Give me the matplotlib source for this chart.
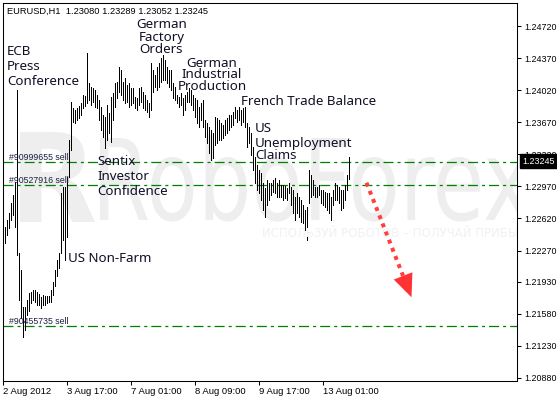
import matplotlib
matplotlib.use("Agg")
import matplotlib.pyplot as plt
import numpy as np
from matplotlib.textpath import TextPath
from matplotlib.patches import PathPatch, Polygon
from matplotlib.font_manager import FontProperties
from matplotlib.transforms import Affine2D

plt.rcParams['lines.scale_dashes'] = False

W, H, DPI = 557, 399, 100

title_text = "EURUSD,H1  1.23080 1.23289 1.23052 1.23245"

bar_high = [
    1.2253, 1.2260, 1.2268, 1.2279, 1.2288, 1.2302, 1.2402, 1.2224, 1.2206, 1.2165,
    1.2165, 1.2173, 1.2181, 1.2182, 1.2184, 1.2184, 1.2182, 1.2180, 1.2176, 1.2179,
    1.2177, 1.2177, 1.2177, 1.2184, 1.2193, 1.2206, 1.2217, 1.2224, 1.2290, 1.2296,
    1.2296, 1.2307, 1.2348, 1.2389, 1.2383, 1.2380, 1.2383, 1.2385, 1.2388, 1.2397,
    1.2396, 1.2443, 1.2410, 1.2405, 1.2404, 1.2402, 1.2397, 1.2391, 1.2384, 1.2375,
    1.2373, 1.2386, 1.2377, 1.2395, 1.2399, 1.2410, 1.2411, 1.2427, 1.2424, 1.2411,
    1.2415, 1.2408, 1.2410, 1.2404, 1.2404, 1.2395, 1.2393, 1.2404, 1.2405, 1.2400,
    1.2397, 1.2391, 1.2388, 1.2432, 1.2424, 1.2419, 1.2427, 1.2432, 1.2437, 1.2440,
    1.2435, 1.2427, 1.2424, 1.2424, 1.2410, 1.2405, 1.2397, 1.2395, 1.2399, 1.2393,
    1.2397, 1.2400, 1.2404, 1.2402, 1.2397, 1.2393, 1.2391, 1.2384, 1.2388, 1.2391,
    1.2369, 1.2366, 1.2362, 1.2359, 1.2355, 1.2373, 1.2372, 1.2369, 1.2366, 1.2364,
    1.2369, 1.2372, 1.2375, 1.2375, 1.2378, 1.2384, 1.2380, 1.2384, 1.2380, 1.2383,
    1.2384, 1.2366, 1.2362, 1.2355, 1.2340, 1.2329, 1.2320, 1.2315, 1.2312, 1.2301,
    1.2295, 1.2304, 1.2301, 1.2301, 1.2304, 1.2306, 1.2301, 1.2304, 1.2299, 1.2299,
    1.2297, 1.2295, 1.2301, 1.2296, 1.2293, 1.2285, 1.2290, 1.2285, 1.2282, 1.2277,
    1.2271, 1.2275, 1.2315, 1.2309, 1.2304, 1.2296, 1.2296, 1.2299, 1.2293, 1.2293,
    1.2291, 1.2290, 1.2290, 1.2285, 1.2293, 1.2301, 1.2299, 1.2296, 1.2293, 1.2293,
    1.2299, 1.2309, 1.23289,
]
bar_low = [
    1.2235, 1.2244, 1.2252, 1.2260, 1.2266, 1.2253, 1.2222, 1.2173, 1.2153, 1.2133,
    1.2140, 1.2157, 1.2161, 1.2170, 1.2173, 1.2171, 1.2168, 1.2168, 1.2164, 1.2168,
    1.2168, 1.2170, 1.2171, 1.2171, 1.2179, 1.2188, 1.2199, 1.2208, 1.2224, 1.2239,
    1.2217, 1.2242, 1.2307, 1.2337, 1.2367, 1.2366, 1.2369, 1.2372, 1.2375, 1.2383,
    1.2385, 1.2388, 1.2391, 1.2386, 1.2389, 1.2384, 1.2383, 1.2369, 1.2359, 1.2351,
    1.2339, 1.2348, 1.2355, 1.2345, 1.2369, 1.2384, 1.2393, 1.2400, 1.2397, 1.2391,
    1.2388, 1.2389, 1.2384, 1.2386, 1.2388, 1.2383, 1.2380, 1.2386, 1.2389, 1.2383,
    1.2380, 1.2378, 1.2373, 1.2380, 1.2400, 1.2405, 1.2402, 1.2405, 1.2411, 1.2413,
    1.2413, 1.2410, 1.2405, 1.2402, 1.2393, 1.2391, 1.2388, 1.2384, 1.2386, 1.2375,
    1.2380, 1.2389, 1.2389, 1.2386, 1.2380, 1.2373, 1.2366, 1.2362, 1.2369, 1.2362,
    1.2351, 1.2344, 1.2333, 1.2326, 1.2328, 1.2342, 1.2344, 1.2348, 1.2348, 1.2350,
    1.2353, 1.2355, 1.2359, 1.2362, 1.2364, 1.2372, 1.2367, 1.2369, 1.2364, 1.2367,
    1.2362, 1.2340, 1.2344, 1.2331, 1.2315, 1.2301, 1.2293, 1.2290, 1.2282, 1.2271,
    1.2264, 1.2277, 1.2282, 1.2288, 1.2291, 1.2290, 1.2285, 1.2285, 1.2285, 1.2282,
    1.2284, 1.2282, 1.2290, 1.2277, 1.2268, 1.2260, 1.2268, 1.2264, 1.2258, 1.2257,
    1.2249, 1.2239, 1.2279, 1.2285, 1.2288, 1.2285, 1.2285, 1.2288, 1.2279, 1.2277,
    1.2275, 1.2271, 1.2268, 1.2260, 1.2277, 1.2282, 1.2282, 1.2279, 1.2271, 1.2273,
    1.2282, 1.2293, 1.23052,
]

x_tick_bars = [0, 32, 64, 96, 128, 160]
x_tick_labels = ["2 Aug 2012", "3 Aug 17:00", "7 Aug 01:00", "8 Aug 09:00",
                 "9 Aug 17:00", "13 Aug 01:00"]
y_tick_values = [1.24720, 1.24370, 1.24020, 1.23670, 1.23320, 1.22970,
                 1.22620, 1.22270, 1.21930, 1.21580, 1.21230, 1.20880]
y_range = (1.20847, 1.24971)
x_range = (-0.75, 256.25)

order_labels = ["#90999655 sell", "#90527916 sell", "#90455735 sell"]
order_prices = [1.2324, 1.2299, 1.2145]
last_price = 1.23245

event_texts = ["ECB", "Press", "Conference",
               "German", "Factory", "Orders",
               "German", "Industrial", "Production",
               "French Trade Balance",
               "US", "Unemployment", "Claims",
               "Sentix", "Investor", "Confidence",
               "US Non-Farm"]
# pixel anchor (x, baseline y, alignment) of each text line
event_pos = [(7, 55, 'left'), (7, 70, 'left'), (7, 85, 'left'),
             (162, 28, 'center'), (162, 40.5, 'center'), (161, 53, 'center'),
             (212, 67, 'center'), (212, 78.5, 'center'), (212, 90, 'center'),
             (241, 105, 'left'),
             (255, 132, 'left'), (255, 147, 'left'), (255, 159, 'left'),
             (97, 165, 'left'), (97, 179.5, 'left'), (97, 195, 'left'),
             (68, 262, 'left')]

arrow_start = (181, 1.2301)
arrow_tip = (203.5, 1.2176)

watermark = "RoboForex"
watermark_sub = "ИСПОЛЬЗУЙ РОБОТОВ – ПОЛУЧАЙ ПРИБЫЛЬ"

# ---------------------------------------------------------------
fig = plt.figure(figsize=(W / DPI, H / DPI), dpi=DPI)
fig.patch.set_facecolor('white')
ax = fig.add_axes([3 / W, 1 - 381 / H, 514 / W, 378 / H])
ax.set_facecolor('white')
ax.set_xlim(*x_range)
ax.set_ylim(*y_range)
ax.set_autoscale_on(False)
for s in ax.spines.values():
    s.set_color('black')
    s.set_linewidth(0.75)

# watermark (drawn in pixel space, clipped to the chart)
wm_col = '#eeeeee'
fp = FontProperties(family='DejaVu Sans')
tp = TextPath((0, 0), watermark, size=100, prop=fp)
ext = tp.get_extents()
sx = (530 - 100) / ext.width
sy = 82 / 72.9
tr = Affine2D().translate(-ext.x0, 0).scale(sx, sy).translate(100, H - 220)
wp = PathPatch(tp, transform=tr, fc=wm_col, ec='none', zorder=0.5)
ax.add_patch(wp)
wp.set_clip_path(ax.patch)

fpb = FontProperties(family='DejaVu Sans', weight='bold')
tr_logo = TextPath((0, 0), "R", size=100, prop=fpb)
e2 = tr_logo.get_extents()
tr2 = Affine2D().translate(-e2.x0, 0).scale(75 / e2.width, 90 / 72.9).translate(20, H - 222)
lp = PathPatch(tr_logo, transform=tr2, fc=wm_col, ec='none', zorder=0.5)
ax.add_patch(lp)
lp.set_clip_path(ax.patch)

sub = fig.text(262 / W, 1 - 237 / H, watermark_sub, fontsize=8.5, color='#f1f1f1',
               ha='left', va='baseline', family='DejaVu Sans', zorder=0.6)
sub.set_clip_path(ax.patch)

# bars
idx = np.arange(len(bar_high))
ax.vlines(idx, bar_low, bar_high, colors='black', linewidth=0.55,
          antialiased=False, zorder=3)

# order lines
for p, lab in zip(order_prices, order_labels):
    ax.axhline(p, color='#008000', lw=0.9, linestyle=(0, (7.2, 2.9, 2.2, 2.9)), zorder=2)
    ax.annotate(lab, xy=(0, p), xycoords=('axes fraction', 'data'),
                xytext=(4.3, 1.4), textcoords='offset points', ha='left',
                va='baseline', fontsize=6.3, family='Liberation Sans',
                color='#1a2040', zorder=4)

# ticks
ax.yaxis.tick_right()
ax.set_yticks(y_tick_values)
ax.set_yticklabels([f"{v:.5f}" for v in y_tick_values])
ax.tick_params(axis='y', which='both', direction='out', length=3, width=0.75,
               pad=2.0, labelsize=6.4, colors='black')
ax.set_xticks(np.array(x_tick_bars) - 0.75)
ax.set_xticklabels(x_tick_labels)
ax.tick_params(axis='x', direction='out', length=3, width=0.75, pad=1,
               labelsize=6.8, colors='black')
for lab in ax.get_xticklabels():
    lab.set_ha('left')
    lab.set_family('Liberation Sans')
for lab in ax.get_yticklabels():
    lab.set_family('Liberation Sans')

# current price box
ax.annotate(f"{last_price:.5f}", xy=(1, last_price), xycoords=('axes fraction', 'data'),
            xytext=(4.0, 0), textcoords='offset points', ha='left', va='center',
            fontsize=6.4, family='Liberation Sans', color='white',
            bbox=dict(boxstyle='square,pad=0.3', fc='black', ec='black'),
            annotation_clip=False, zorder=10)

# title
fig.text(7 / W, 1 - 14 / H, title_text, ha='left', va='baseline', fontsize=6.7,
         family='Liberation Sans', color='black')

# event labels
for txt, (x, y, ha) in zip(event_texts, event_pos):
    fig.text(x / W, 1 - y / H, txt, ha=ha, va='baseline', fontsize=9.6,
             family='Noto Sans', color='#101028')

# forecast arrow
p0 = ax.transData.transform(arrow_start)
p1 = ax.transData.transform(arrow_tip)
d = (p1 - p0) / np.hypot(*(p1 - p0))
nrm = np.array([-d[1], d[0]])
base = p1 - 23 * d
inv = ax.transData.inverted()
base_d = inv.transform(base)
tri = inv.transform(np.array([p1, base + 10 * nrm, base - 10 * nrm]))
ax.plot([arrow_start[0], base_d[0]], [arrow_start[1], base_d[1]], color='#ff4040',
        lw=2.9, linestyle=(0, (2.9, 3.4)), solid_capstyle='butt', dash_capstyle='butt',
        zorder=5)
ax.add_patch(Polygon(tri, closed=True, fc='#ff3333', ec='none', zorder=5))

ax.set_xlim(*x_range)
ax.set_ylim(*y_range)
fig.savefig("out.png", dpi=DPI)
